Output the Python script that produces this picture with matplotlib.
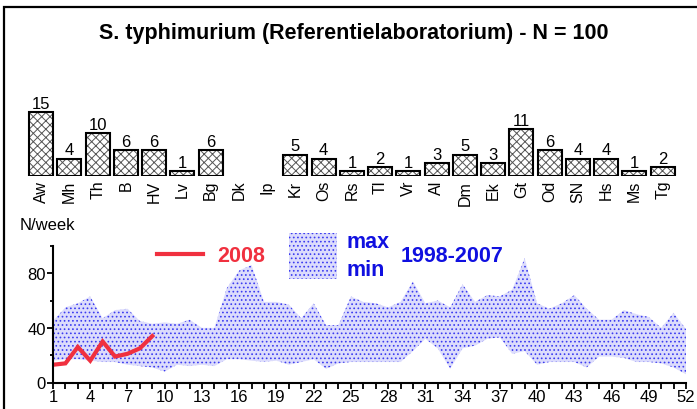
import numpy as np
import matplotlib
matplotlib.use("Agg")
import matplotlib.pyplot as plt
from matplotlib.lines import Line2D
from matplotlib.patches import Rectangle

plt.rcParams["font.family"] = ["Liberation Sans", "DejaVu Sans"]
plt.rcParams["hatch.linewidth"] = 0.7

W, H = 697, 410

# --- data -------------------------------------------------------------
LABS = ["Aw", "Mh", "Th", "B", "HV", "Lv", "Bg", "Dk", "Ip", "Kr", "Os", "Rs",
        "Tl", "Vr", "Al", "Dm", "Ek", "Gt", "Od", "SN", "Hs", "Ms", "Tg"]
COUNTS = [15, 4, 10, 6, 6, 1, 6, 0, 0, 5, 4, 1, 2, 1, 3, 5, 3, 11, 6, 4, 4, 1, 2]

WEEKS = list(range(1, 53))
MAX_9807 = [45, 55, 58, 63, 47, 53, 54, 45, 43, 44, 43, 46, 40, 40, 69, 82, 86,
            59, 59, 57, 47, 58, 42, 42, 63, 59, 58, 55, 59, 74, 58, 60, 55, 72,
            59, 64, 63, 68, 91, 58, 54, 58, 64, 54, 46, 46, 53, 50, 48, 40, 51, 39]
MIN_9807 = [16, 17, 17, 16, 15, 15, 13, 12, 11, 8, 13, 12, 13, 12, 17, 17, 16,
            15, 16, 13, 15, 17, 10, 14, 15, 15, 15, 15, 15, 23, 32, 25, 10, 25,
            27, 32, 33, 21, 23, 13, 15, 15, 15, 11, 19, 19, 18, 15, 15, 14, 11, 6]
W2008 = list(range(1, 10))
N2008 = [13, 14, 26, 16, 30, 19, 21, 25, 34]

RED = "#f0303f"
BLUE = "#1010e0"
BAND_FACE = "#dcdcfc"
BAND_DOTS = "#3c3cf0"


def fx(px):
    return px / W


def fy(py):
    return 1 - py / H


fig = plt.figure(figsize=(W / 100, H / 100), dpi=100)

# outer frame (cut off at right and bottom like the original)
fig.patches.append(Rectangle((fx(4), -0.1), 1.2, fy(8) + 0.1, transform=fig.transFigure,
                             fill=False, edgecolor="black", lw=1.6))

fig.text(fx(354), fy(33), "S. typhimurium (Referentielaboratorium) - N = 100",
         ha="center", va="center", fontsize=15.5, fontweight="bold")

# --- bars per laboratory ---------------------------------------------
axb = fig.add_axes([fx(27), fy(176.7), fx(676.8 - 27), (176.7 - 92) / H])
x = np.arange(len(LABS))
nz = [i for i, v in enumerate(COUNTS) if v > 0]
vals = [COUNTS[i] for i in nz]
axb.bar(nz, vals, width=0.85, color="white", edgecolor="#555555", hatch="xxxx", lw=0)
axb.bar(nz, vals, width=0.85, fill=False, edgecolor="black", lw=1.5)
for i, v in zip(nz, vals):
    axb.text(i, v + 0.3, str(v), ha="center", va="bottom", fontsize=12)
axb.set_xlim(-0.5, len(LABS) - 0.5)
axb.set_ylim(0, 20)
axb.set_xticks(x)
axb.set_xticklabels(LABS, rotation=90, fontsize=11.5)
axb.tick_params(axis="x", length=0, pad=3)
axb.set_yticks([])
for s in axb.spines.values():
    s.set_visible(False)
axb.patch.set_alpha(0)

# --- weekly series -----------------------------------------------------
axl = fig.add_axes([fx(53), fy(383.5), fx(633), 136.6 / H])
axl.fill_between(WEEKS, MIN_9807, MAX_9807, facecolor=BAND_FACE, edgecolor=BAND_DOTS,
                 hatch="....", lw=0)
axl.plot(W2008, N2008, color=RED, lw=3, solid_joinstyle="miter")
axl.set_xlim(1, 52)
axl.set_ylim(0, 100)
axl.set_xticks(WEEKS)
axl.set_xticklabels([str(w) if (w - 1) % 3 == 0 else "" for w in WEEKS])
axl.set_yticks([0, 40, 80])
axl.set_yticks([20, 60, 100], minor=True)
axl.tick_params(axis="both", which="major", length=4, width=1.3, labelsize=12, pad=1)
axl.tick_params(axis="y", which="minor", length=2.5, width=1.3)
for s in ["top", "right"]:
    axl.spines[s].set_visible(False)
for s in ["left", "bottom"]:
    axl.spines[s].set_linewidth(1.5)
axl.patch.set_alpha(0)

fig.text(fx(20), fy(226), "N/week", ha="left", va="center", fontsize=12)

# --- legend ---------------------------------------------------------------
fig.add_artist(Line2D([fx(157), fx(203)], [fy(255), fy(255)], color=RED, lw=3,
                      transform=fig.transFigure))
fig.text(fx(217), fy(256), "2008", color=RED, fontsize=15.5, fontweight="bold",
         ha="left", va="center")
fig.patches.append(Rectangle((fx(289), fy(280)), fx(48), (280 - 234) / H,
                             transform=fig.transFigure, facecolor=BAND_FACE,
                             edgecolor=BAND_DOTS, hatch="....", lw=0))
fig.text(fx(347), fy(243), "max", color=BLUE, fontsize=15.5, fontweight="bold",
         ha="left", va="center")
fig.text(fx(347), fy(270), "min", color=BLUE, fontsize=15.5, fontweight="bold",
         ha="left", va="center")
fig.text(fx(401), fy(256), "1998-2007", color=BLUE, fontsize=15.5, fontweight="bold",
         ha="left", va="center")

fig.savefig("out.png", dpi=100)
